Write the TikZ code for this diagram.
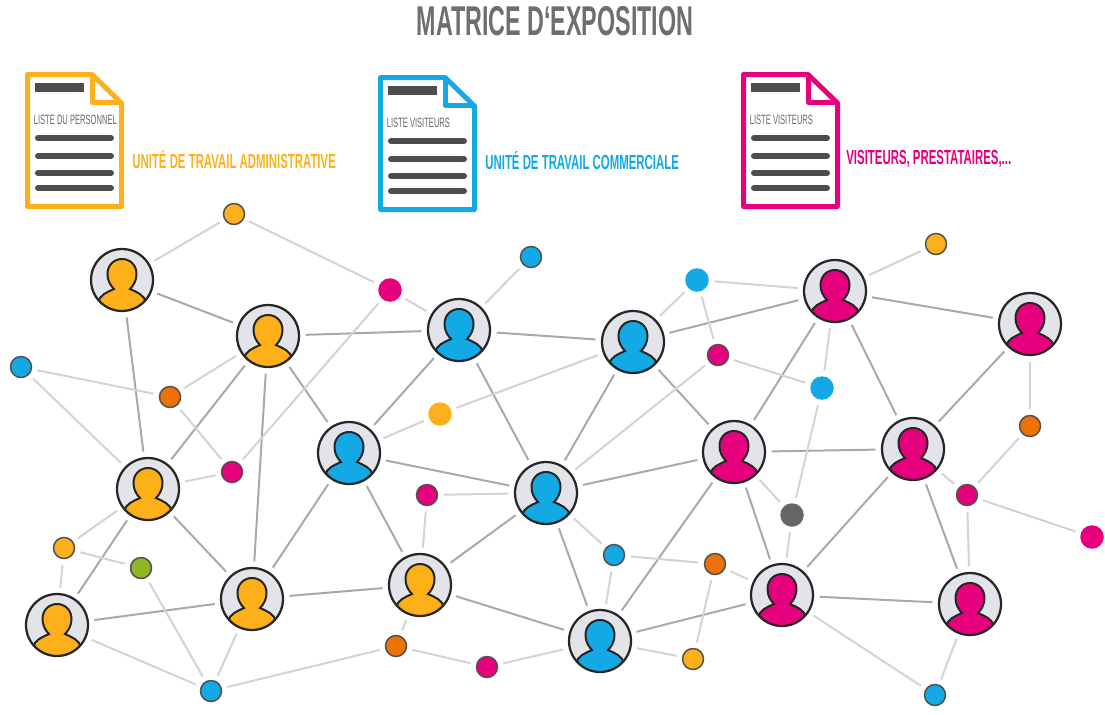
\documentclass[tikz,border=0pt]{standalone}
\usepackage{fontspec}
\usepackage{tikz}
\setmainfont{Liberation Sans}
\newfontfamily\narrowfont[FakeStretch=0.56]{Liberation Sans}
\usetikzlibrary{positioning}
\definecolor{yelCol}{HTML}{FDB01A}
\definecolor{bluCol}{HTML}{12A9E5}
\definecolor{magCol}{HTML}{E6007E}
\definecolor{oraCol}{HTML}{EE7203}
\definecolor{grnCol}{HTML}{8DB822}
\definecolor{gryCol}{HTML}{666666}
\definecolor{inkCol}{HTML}{262626}
\definecolor{faceCol}{HTML}{E2E4E9}
\definecolor{tieCol}{HTML}{A8A9AB}
\definecolor{softCol}{HTML}{D2D3D7}
\definecolor{barCol}{HTML}{4D4D4D}
\definecolor{titleCol}{HTML}{6D6E70}
\tikzset{
    avatar/.style={circle, draw=inkCol, line width=0.045cm, fill=faceCol, minimum size=1.24cm, inner sep=0pt,
        path picture={
            \begin{scope}[shift={(path picture bounding box.center)}]
                \filldraw[fill=#1, draw=inkCol, line width=0.04cm]
                    (-28,36) -- (-24,22) .. controls (-22,15) and (-15,12) .. (-8,9)
                    .. controls (-12,5) and (-14.5,0) .. (-14.5,-6)
                    .. controls (-14.5,-15) and (-8,-21) .. (0,-21)
                    .. controls (8,-21) and (14.5,-15) .. (14.5,-6)
                    .. controls (14.5,0) and (12,5) .. (8,9)
                    .. controls (15,12) and (22,15) .. (24,22) -- (28,36) -- cycle;
            \end{scope}
        }},
    dotline/.style={circle, draw=inkCol!80, line width=0.03cm, fill=#1, minimum size=0.42cm, inner sep=0pt},
    dotplain/.style={circle, fill=#1, minimum size=0.47cm, inner sep=0pt},
    tie/.style={draw=tieCol, line width=0.04cm, shorten >=0.11cm, shorten <=0.11cm},
    softtie/.style={draw=softCol, line width=0.04cm, shorten >=0.11cm, shorten <=0.11cm},
    sheet/.style={line width=0.1cm, line join=round, draw=#1},
    bar/.style={draw=barCol, line width=0.12cm, line cap=round},
    grouplabel/.style={anchor=west, inner sep=0pt, font=\narrowfont\bfseries\fontsize{11.6}{12}\selectfont}
}
\begin{document}
\begin{tikzpicture}[x=0.02cm,y=-0.02cm]
    \useasboundingbox (0,0) rectangle (1105,714);
    \node[inner sep=0pt, text=titleCol, font=\narrowfont\bfseries\fontsize{23.7}{24}\selectfont] (title) at (555,21) {MATRICE D‘EXPOSITION};
    \foreach \dx/\dy/\col/\txt/\i in {0/0/yelCol/LISTE DU PERSONNEL/1, 353/3/bluCol/LISTE VISITEURS/2, 716/0/magCol/LISTE VISITEURS/3} {
        \begin{scope}[shift={(\dx,\dy)}]
            \draw[sheet=\col] (27.5,74.5) -- (92,74.5) -- (121.5,103) -- (121.5,206.5) -- (27.5,206.5) -- cycle;
            \draw[sheet=\col] (92,74.5) -- (92,102) -- (121.5,102);
            \draw[bar, line cap=butt, line width=0.18cm] (35,87.5) -- (84,87.5);
            \node[anchor=west, inner sep=0pt, text=barCol!85, font=\narrowfont\fontsize{7.7}{8}\selectfont] (sheettext\i) at (33.5,120) {\txt};
            \foreach \y in {138,156,173,188}
                \draw[bar] (38,\y) -- (111,\y);
        \end{scope}
    }
    \node[grouplabel, text=yelCol] (lblAdm) at (132,160) {UNITÉ DE TRAVAIL ADMINISTRATIVE};
    \node[grouplabel, text=bluCol] (lblCom) at (485,161) {UNITÉ DE TRAVAIL COMMERCIALE};
    \node[grouplabel, text=magCol] (lblVis) at (846,159) {VISITEURS, PRESTATAIRES,...};

    \foreach \name/\x/\y in {adm1/122/280, adm2/268/336, adm3/148/489, adm4/252/599, adm5/57/625, adm6/420/585}
        \node[avatar=yelCol] (\name) at (\x,\y) {};
    \foreach \name/\x/\y in {com1/459/330, com2/633/342, com3/349/453, com4/546/493, com5/600/641}
        \node[avatar=bluCol] (\name) at (\x,\y) {};
    \foreach \name/\x/\y in {vis1/835/291, vis2/1030/324, vis3/734/452, vis4/913/449, vis5/782/595, vis6/970/604}
        \node[avatar=magCol] (\name) at (\x,\y) {};

    \foreach \name/\x/\y in {yel1/234/214, yel2/936/244, yel3/64/548, yel4/693/659}
        \node[dotline=yelCol] (\name) at (\x,\y) {};
    \foreach \name/\x/\y in {ora1/170/397, ora2/1030/426, ora3/715/564, ora4/396/646}
        \node[dotline=oraCol] (\name) at (\x,\y) {};
    \foreach \name/\x/\y in {blu1/531/257, blu2/21/367, blu3/614/555, blu4/211/691, blu5/935/695}
        \node[dotline=bluCol] (\name) at (\x,\y) {};
    \foreach \name/\x/\y in {mag1/718/355, mag2/232/472, mag3/427/495, mag4/967/495, mag5/487/667}
        \node[dotline=magCol] (\name) at (\x,\y) {};
    \node[dotline=grnCol] (grn1) at (141,568) {};
    \node[dotplain=gryCol] (gry1) at (792,515) {};
    \node[dotplain=yelCol] (yel5) at (440,414) {};
    \node[dotplain=bluCol] (blu6) at (697,280) {};
    \node[dotplain=bluCol] (blu7) at (822,388) {};
    \node[dotplain=magCol] (mag6) at (390,290) {};
    \node[dotplain=magCol] (mag7) at (1092,537) {};

    \foreach \a/\b in {adm1/adm2, adm1/adm3, adm2/adm3, adm2/adm4, adm2/com1, adm2/com3, adm3/adm4, adm3/adm5,
        adm4/adm5, adm4/adm6, adm4/com3, adm6/com3, adm6/com4, adm6/com5, com1/com2, com1/com3, com1/com4,
        com2/com4, com2/vis1, com2/vis3, com3/com4, com4/com5, com4/vis3, com5/vis3, com5/vis5,
        vis1/vis2, vis1/vis3, vis1/vis4, vis2/vis4, vis3/vis4, vis3/vis5, vis4/vis5, vis4/vis6, vis5/vis6}
        \draw[tie] (\a) -- (\b);
    \foreach \a/\b in {yel1/adm1, yel1/mag6, mag6/com1, mag6/mag2, blu1/com1, blu2/ora1, blu2/adm3, ora1/adm2, ora1/mag2,
        mag2/adm3, adm3/yel3, yel3/grn1, yel3/adm5, grn1/blu4, adm5/blu4, adm4/blu4, blu4/ora4, ora4/adm6, ora4/mag5,
        mag5/com5, com5/yel4, yel4/ora3, ora3/blu3, ora3/vis5, blu3/com4, blu3/com5, mag3/adm6, mag3/com4,
        yel5/com3, yel5/com2, com4/mag1, com2/blu6, blu6/vis1, blu6/mag1, mag1/blu7, blu7/vis1, blu7/gry1,
        gry1/vis3, gry1/vis5, yel2/vis1, vis2/ora2, ora2/mag4, mag4/vis4, mag4/mag7, mag4/vis6, vis5/blu5, vis6/blu5}
        \draw[softtie] (\a) -- (\b);
\end{tikzpicture}
\end{document}
